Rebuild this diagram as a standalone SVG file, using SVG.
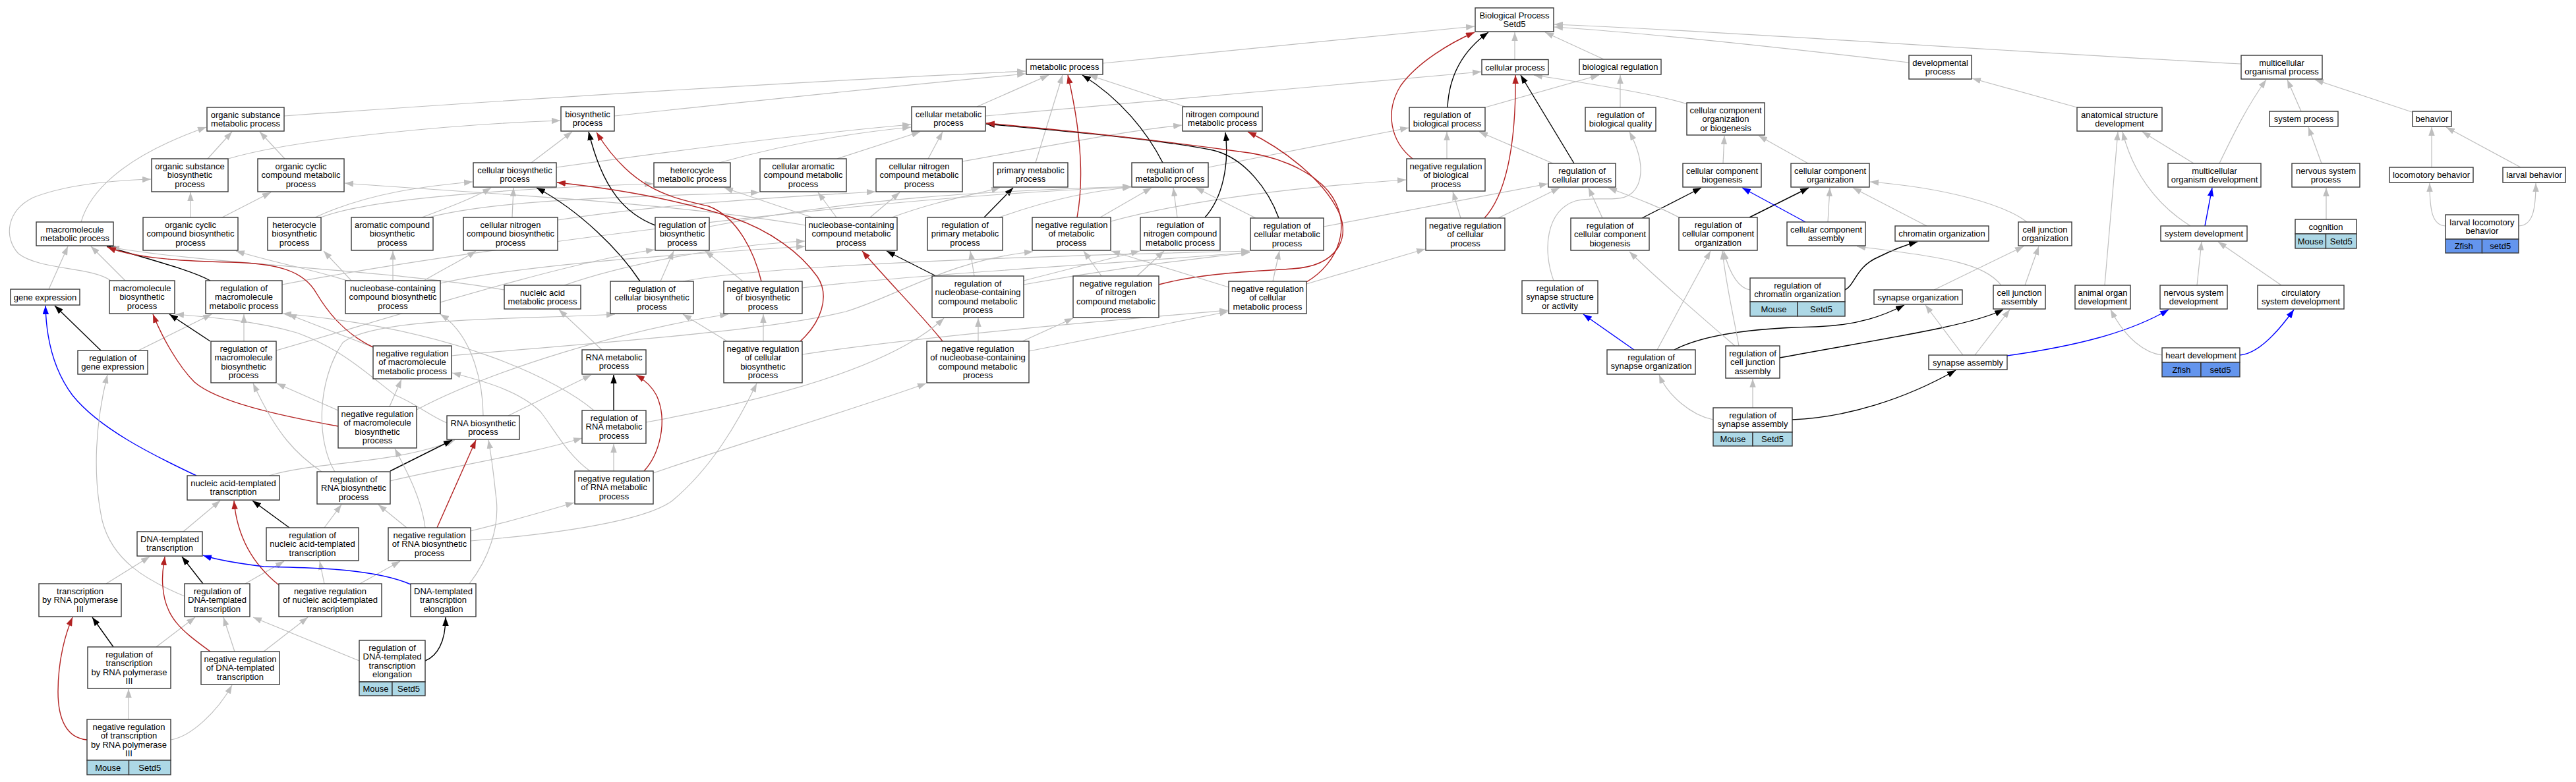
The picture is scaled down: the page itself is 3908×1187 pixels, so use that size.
<svg xmlns="http://www.w3.org/2000/svg" width="3908" height="1187" viewBox="0 0 3908 1187">
<defs>
<style>
.nd rect{fill:#fff;stroke:#383838;stroke-width:1.4}
.nd rect.m{fill:#add8e6}
.nd rect.z{fill:#6495ed}
text{font-family:'Liberation Sans',Arial,sans-serif;font-size:13px;text-anchor:middle;fill:#000}
#edges path{fill:none;stroke-width:1.2}
#edges .g{stroke:#bebebe;marker-end:url(#ag)}
#edges .k{stroke:#000;marker-end:url(#ak);stroke-width:1.4}
#edges .r{stroke:#b22222;marker-end:url(#ar);stroke-width:1.4}
#edges .b{stroke:#0000ff;marker-end:url(#ab);stroke-width:1.4}
</style>
<marker id="ag" viewBox="0 0 13 9.5" refX="13" refY="4.75" markerWidth="13" markerHeight="9.5" markerUnits="userSpaceOnUse" orient="auto"><path d="M0,0L13,4.75L0,9.5z" fill="#bebebe"/></marker>
<marker id="ak" viewBox="0 0 13 9.5" refX="13" refY="4.75" markerWidth="13" markerHeight="9.5" markerUnits="userSpaceOnUse" orient="auto"><path d="M0,0L13,4.75L0,9.5z" fill="#000"/></marker>
<marker id="ar" viewBox="0 0 13 9.5" refX="13" refY="4.75" markerWidth="13" markerHeight="9.5" markerUnits="userSpaceOnUse" orient="auto"><path d="M0,0L13,4.75L0,9.5z" fill="#b22222"/></marker>
<marker id="ab" viewBox="0 0 13 9.5" refX="13" refY="4.75" markerWidth="13" markerHeight="9.5" markerUnits="userSpaceOnUse" orient="auto"><path d="M0,0L13,4.75L0,9.5z" fill="#0000ff"/></marker>
</defs>
<rect x="0" y="0" width="3908" height="1187" fill="#fff"/>
<g id="edges">
<path class="g" d="M1673,96 L2237,40"/>
<path class="g" d="M2298,91 L2298,49"/>
<path class="g" d="M2433,90 L2344,49"/>
<path class="g" d="M2896,95 C2700,72 2500,50 2358,41"/>
<path class="g" d="M3400,97 C3000,76 2600,46 2358,37"/>
<path class="g" d="M431,176 C800,150 1200,124 1556,108"/>
<path class="g" d="M932,176 C1100,158 1300,136 1556,112"/>
<path class="g" d="M1482,162 L1591,114"/>
<path class="g" d="M1495,176 L2247,109"/>
<path class="g" d="M1798,162 L1652,114"/>
<path class="g" d="M2253,163 L2426,114"/>
<path class="k" d="M2196,163 C2198,120 2215,80 2258,49"/>
<path class="g" d="M2458,163 L2458,114"/>
<path class="g" d="M2560,158 C2520,145 2420,128 2327,114"/>
<path class="g" d="M3151,163 L2992,119"/>
<path class="g" d="M3491,169 L3470,121"/>
<path class="g" d="M3659,170 L3512,121"/>
<path class="g" d="M315,241 L352,200"/>
<path class="g" d="M346,241 C450,210 700,188 850,183"/>
<path class="g" d="M432,241 L394,200"/>
<path class="g" d="M806,247 L868,200"/>
<path class="g" d="M844,254 C1000,232 1200,205 1382,189"/>
<path class="g" d="M1091,247 C1180,222 1280,203 1382,193"/>
<path class="g" d="M1270,241 L1396,200"/>
<path class="g" d="M1408,241 L1430,200"/>
<path class="g" d="M1460,245 C1600,220 1700,200 1793,190"/>
<path class="g" d="M1571,247 L1612,114"/>
<path class="k" d="M1764,247 C1740,200 1700,150 1642,114"/>
<path class="g" d="M1833,254 L2137,194"/>
<path class="g" d="M2195,241 L2195,200"/>
<path class="r" d="M2143,241 C2110,215 2100,170 2125,130 C2150,95 2200,65 2237,49"/>
<path class="g" d="M2356,248 L2244,200"/>
<path class="k" d="M2388,248 L2307,114"/>
<path class="g" d="M2614,248 L2616,206"/>
<path class="g" d="M2743,248 L2668,206"/>
<path class="g" d="M3328,248 L3250,200"/>
<path class="g" d="M3367,248 C3390,200 3410,160 3438,121"/>
<path class="g" d="M3522,248 L3502,193"/>
<path class="g" d="M3689,254 L3689,193"/>
<path class="g" d="M3824,254 L3711,193"/>
<path class="g" d="M123,337 C135,295 180,240 313,193"/>
<path class="g" d="M289,330 L289,292"/>
<path class="g" d="M337,330 L411,292"/>
<path class="g" d="M484,331 C560,300 800,285 991,279"/>
<path class="g" d="M478,330 C560,292 650,282 717,276"/>
<path class="g" d="M647,331 C760,300 1000,298 1152,292"/>
<path class="g" d="M640,330 C680,315 720,300 745,285"/>
<path class="g" d="M777,330 L779,285"/>
<path class="g" d="M846,334 C1000,310 1200,298 1328,291"/>
<path class="g" d="M1222,342 C1000,305 700,292 523,278"/>
<path class="g" d="M1232,330 L1099,285"/>
<path class="g" d="M1269,330 L1241,292"/>
<path class="g" d="M1320,330 L1365,292"/>
<path class="g" d="M1353,330 C1420,305 1480,295 1517,285"/>
<path class="k" d="M994,342 C950,325 915,290 893,200"/>
<path class="g" d="M1076,344 C1300,300 1500,290 1716,283"/>
<path class="k" d="M1493,330 L1537,285"/>
<path class="g" d="M1516,330 C1600,300 1660,290 1716,284"/>
<path class="r" d="M1634,330 C1645,270 1640,200 1620,114"/>
<path class="g" d="M1669,330 L1747,285"/>
<path class="g" d="M1685,336 C1800,305 1950,285 2133,273"/>
<path class="g" d="M1786,330 L1780,285"/>
<path class="k" d="M1828,330 C1855,300 1865,250 1859,201"/>
<path class="g" d="M1905,331 L1814,285"/>
<path class="k" d="M1940,331 C1925,290 1890,240 1840,228 C1750,210 1600,198 1496,188"/>
<path class="g" d="M2008,344 L2348,279"/>
<path class="g" d="M2216,331 L2204,291"/>
<path class="g" d="M2273,331 L2366,285"/>
<path class="r" d="M2252,331 C2290,290 2300,200 2299,114"/>
<path class="k" d="M2491,331 L2581,285"/>
<path class="g" d="M2431,331 L2410,285"/>
<path class="k" d="M2654,330 L2744,285"/>
<path class="g" d="M2549,331 C2520,315 2480,300 2440,285"/>
<path class="b" d="M2739,337 L2643,285"/>
<path class="g" d="M2773,337 L2776,285"/>
<path class="g" d="M2923,343 L2811,285"/>
<path class="g" d="M3075,337 C3040,310 2950,285 2837,276"/>
<path class="g" d="M3323,343 C3270,310 3235,260 3220,200"/>
<path class="b" d="M3345,343 L3356,285"/>
<path class="g" d="M3529,333 L3529,285"/>
<path class="g" d="M3710,343 C3690,342 3686,320 3686,278"/>
<path class="g" d="M3821,343 C3842,342 3847,320 3847,278"/>
<path class="g" d="M74,439 L103,374"/>
<path class="g" d="M190,426 L138,374"/>
<path class="g" d="M168,426 C140,405 60,410 28,385 C5,360 10,320 50,300 C100,280 170,274 229,272"/>
<path class="k" d="M319,426 C290,410 230,395 162,374"/>
<path class="g" d="M428,432 C700,380 1300,300 1716,284"/>
<path class="g" d="M533,426 L491,381"/>
<path class="g" d="M596,426 L596,381"/>
<path class="g" d="M533,428 C480,410 420,400 358,381"/>
<path class="g" d="M643,426 C670,410 700,395 722,381"/>
<path class="g" d="M668,430 C800,400 1050,385 1221,374"/>
<path class="g" d="M856,433 C950,400 1100,372 1221,366"/>
<path class="g" d="M765,440 C600,410 300,400 168,375"/>
<path class="g" d="M1002,427 L1022,381"/>
<path class="k" d="M971,427 C940,380 880,320 814,285"/>
<path class="g" d="M1036,427 C1150,405 1500,390 1896,381"/>
<path class="g" d="M1127,427 L1070,381"/>
<path class="r" d="M1155,427 C1145,385 1120,330 1075,313 C1020,300 960,290 905,201"/>
<path class="g" d="M1217,437 C1400,415 1700,400 1896,383"/>
<path class="k" d="M1420,419 L1345,381"/>
<path class="g" d="M1478,419 L1472,381"/>
<path class="g" d="M1553,426 L1729,381"/>
<path class="g" d="M1553,432 C1700,405 1800,395 1896,383"/>
<path class="g" d="M1671,419 L1644,381"/>
<path class="g" d="M1725,419 L1766,381"/>
<path class="r" d="M1758,432 C1820,415 1900,412 1960,408 C2030,404 2050,360 2030,320 C2005,270 1945,225 1893,200"/>
<path class="r" d="M1982,428 C2030,400 2055,340 2015,290 C1985,255 1930,235 1880,230 C1750,212 1600,196 1496,187"/>
<path class="g" d="M1931,427 L1941,381"/>
<path class="g" d="M1864,436 L1686,381"/>
<path class="g" d="M1982,431 L2162,378"/>
<path class="g" d="M2357,426 C2340,380 2345,320 2390,305 C2430,295 2470,315 2485,280 C2495,255 2485,225 2472,200"/>
<path class="k" d="M2799,440 C2815,432 2815,405 2850,390 C2870,380 2890,372 2909,367"/>
<path class="g" d="M2655,440 C2640,438 2625,420 2615,381"/>
<path class="g" d="M2934,440 L3070,374"/>
<path class="g" d="M3072,433 L3093,374"/>
<path class="g" d="M3036,433 C3010,400 2950,390 2817,374"/>
<path class="g" d="M3193,433 L3213,200"/>
<path class="g" d="M3333,433 L3340,367"/>
<path class="g" d="M3461,433 L3365,367"/>
<path class="k" d="M153,532 L83,464"/>
<path class="g" d="M210,532 L321,477"/>
<path class="k" d="M319,518 L257,477"/>
<path class="g" d="M370,518 L370,477"/>
<path class="g" d="M419,532 C600,480 850,400 993,379"/>
<path class="g" d="M566,527 L437,477"/>
<path class="r" d="M566,527 C520,505 495,470 480,445 C460,410 420,400 350,398 C260,396 200,390 163,375"/>
<path class="g" d="M685,540 C900,520 1150,505 1283,473 C1360,450 1440,395 1567,382"/>
<path class="g" d="M913,531 L848,470"/>
<path class="g" d="M1158,518 L1158,477"/>
<path class="g" d="M1103,518 L1036,477"/>
<path class="r" d="M1214,518 C1245,490 1260,450 1240,420 C1215,385 1170,350 1110,330 C1020,300 920,285 845,277"/>
<path class="g" d="M1217,538 C1400,510 1700,485 1863,471"/>
<path class="g" d="M1484,518 L1484,483"/>
<path class="r" d="M1430,518 C1400,480 1350,430 1308,381"/>
<path class="g" d="M1551,518 L1628,483"/>
<path class="g" d="M1561,533 L1863,473"/>
<path class="k" d="M2540,531 C2580,510 2650,498 2755,496 C2820,494 2860,478 2889,463"/>
<path class="b" d="M2479,531 L2402,477"/>
<path class="g" d="M2514,531 L2595,381"/>
<path class="k" d="M2700,543 C2850,515 2990,495 3039,470"/>
<path class="g" d="M2632,525 C2580,480 2510,420 2472,382"/>
<path class="g" d="M2638,525 C2630,480 2618,430 2613,381"/>
<path class="g" d="M2978,539 L2921,463"/>
<path class="g" d="M2996,539 L3049,470"/>
<path class="b" d="M3045,540 C3150,525 3230,505 3290,470"/>
<path class="g" d="M3280,539 C3255,536 3225,515 3202,470"/>
<path class="b" d="M3398,539 C3425,537 3455,505 3480,470"/>
<path class="r" d="M513,647 C420,630 330,610 295,580 C270,555 245,510 232,477"/>
<path class="g" d="M513,623 L420,582"/>
<path class="g" d="M591,617 L609,576"/>
<path class="g" d="M632,622 C750,560 950,500 1105,477"/>
<path class="g" d="M771,631 L897,569"/>
<path class="g" d="M678,642 C650,630 630,612 600,600 C560,570 520,530 450,505 C380,485 300,480 266,477"/>
<path class="g" d="M733,631 C733,590 720,510 668,477"/>
<path class="k" d="M931,623 L931,569"/>
<path class="g" d="M980,641 C1150,610 1350,560 1432,483"/>
<path class="g" d="M901,623 C850,580 700,500 429,476"/>
<path class="k" d="M2719,637 C2800,634 2890,606 2967,562"/>
<path class="g" d="M2599,637 C2565,630 2530,600 2517,569"/>
<path class="g" d="M2659,619 L2659,575"/>
<path class="b" d="M298,722 C230,690 150,650 110,600 C80,560 70,510 69,464"/>
<path class="g" d="M408,722 C480,700 600,705 690,668"/>
<path class="k" d="M592,715 L686,668"/>
<path class="g" d="M592,730 C700,705 800,690 883,665"/>
<path class="g" d="M488,716 C450,690 420,660 384,582"/>
<path class="g" d="M508,716 C480,670 480,580 520,520 C570,480 800,485 933,477"/>
<path class="g" d="M931,715 L931,674"/>
<path class="r" d="M977,715 C1000,690 1014,640 996,600 C988,585 975,575 965,569"/>
<path class="g" d="M991,718 C1100,680 1300,620 1405,582"/>
<path class="g" d="M895,715 C860,690 840,650 820,625 C790,595 740,580 686,566"/>
<path class="g" d="M278,807 L334,760"/>
<path class="k" d="M439,801 L383,760"/>
<path class="g" d="M492,801 L518,766"/>
<path class="r" d="M663,801 L722,668"/>
<path class="g" d="M617,801 L574,766"/>
<path class="g" d="M645,801 C640,760 620,720 599,681"/>
<path class="g" d="M714,806 C780,790 830,775 871,763"/>
<path class="g" d="M714,821 C850,810 980,790 1020,760 C1080,710 1120,640 1148,582"/>
<path class="g" d="M161,886 L227,845"/>
<path class="k" d="M308,886 L276,845"/>
<path class="g" d="M372,886 L431,852"/>
<path class="g" d="M280,905 C220,880 170,850 155,790 C140,720 145,640 163,569"/>
<path class="r" d="M423,888 C388,860 360,820 355,760"/>
<path class="g" d="M492,886 L485,852"/>
<path class="g" d="M546,886 L607,852"/>
<path class="b" d="M623,887 C560,860 450,862 400,860 C360,855 330,850 308,843"/>
<path class="g" d="M712,886 C740,850 760,800 752,750 C748,710 745,690 741,668"/>
<path class="k" d="M172,982 L140,937"/>
<path class="g" d="M237,982 L296,937"/>
<path class="r" d="M319,989 C280,960 250,940 247,890 C245,870 248,860 250,845"/>
<path class="g" d="M356,989 L339,937"/>
<path class="g" d="M400,989 L467,937"/>
<path class="k" d="M645,1003 C663,996 676,975 676,937"/>
<path class="g" d="M545,1003 L384,937"/>
<path class="r" d="M132,1123 C100,1120 88,1090 88,1050 C88,1000 100,960 110,937"/>
<path class="g" d="M195,1092 L195,1046"/>
<path class="g" d="M259,1123 C290,1118 330,1080 352,1040"/>
</g>
<g id="nodes">
<g id="biological-process" class="nd"><rect x="2238" y="12" width="119" height="36"/><text x="2297.5" y="28">Biological Process</text><text x="2297.5" y="41.3">Setd5</text></g>
<g id="metabolic-process" class="nd"><rect x="1557" y="90" width="116" height="23"/><text x="1615" y="106">metabolic process</text></g>
<g id="cellular-process" class="nd"><rect x="2248" y="90.5" width="101" height="23"/><text x="2298.5" y="106.5">cellular process</text></g>
<g id="biological-regulation" class="nd"><rect x="2396" y="90" width="124" height="23"/><text x="2458" y="106">biological regulation</text></g>
<g id="developmental-process" class="nd"><rect x="2896" y="84" width="95" height="36"/><text x="2943.5" y="100">developmental</text><text x="2943.5" y="113.3">process</text></g>
<g id="multicellular-organismal-process" class="nd"><rect x="3400" y="84" width="123" height="36"/><text x="3461.5" y="100">multicellular</text><text x="3461.5" y="113.3">organismal process</text></g>
<g id="organic-substance-metabolic-process" class="nd"><rect x="314" y="163" width="117" height="36"/><text x="372.5" y="179">organic substance</text><text x="372.5" y="192.3">metabolic process</text></g>
<g id="biosynthetic-process" class="nd"><rect x="851" y="162" width="81" height="37"/><text x="891.5" y="178">biosynthetic</text><text x="891.5" y="191.3">process</text></g>
<g id="cellular-metabolic-process" class="nd"><rect x="1383" y="162" width="112" height="37"/><text x="1439" y="178">cellular metabolic</text><text x="1439" y="191.3">process</text></g>
<g id="nitrogen-compound-metabolic-process" class="nd"><rect x="1794" y="162" width="121" height="37"/><text x="1854.5" y="178">nitrogen compound</text><text x="1854.5" y="191.3">metabolic process</text></g>
<g id="regulation-of-biological-process" class="nd"><rect x="2138" y="163" width="115" height="36"/><text x="2195.5" y="179">regulation of</text><text x="2195.5" y="192.3">biological process</text></g>
<g id="regulation-of-biological-quality" class="nd"><rect x="2405" y="163" width="107" height="36"/><text x="2458.5" y="179">regulation of</text><text x="2458.5" y="192.3">biological quality</text></g>
<g id="cellular-component-organization-or-biogenesis" class="nd"><rect x="2559" y="156" width="118" height="49"/><text x="2618" y="172">cellular component</text><text x="2618" y="185.3">organization</text><text x="2618" y="198.6">or biogenesis</text></g>
<g id="anatomical-structure-development" class="nd"><rect x="3151" y="163" width="129" height="36"/><text x="3215.5" y="179">anatomical structure</text><text x="3215.5" y="192.3">development</text></g>
<g id="system-process" class="nd"><rect x="3443" y="169" width="104" height="23"/><text x="3495" y="185">system process</text></g>
<g id="behavior" class="nd"><rect x="3660" y="169" width="59" height="23"/><text x="3689.5" y="185">behavior</text></g>
<g id="organic-substance-biosynthetic-process" class="nd"><rect x="230" y="241" width="116" height="50"/><text x="288" y="257">organic substance</text><text x="288" y="270.3">biosynthetic</text><text x="288" y="283.6">process</text></g>
<g id="organic-cyclic-compound-metabolic-process" class="nd"><rect x="391" y="241" width="131" height="50"/><text x="456.5" y="257">organic cyclic</text><text x="456.5" y="270.3">compound metabolic</text><text x="456.5" y="283.6">process</text></g>
<g id="cellular-biosynthetic-process" class="nd"><rect x="718" y="247" width="126" height="37"/><text x="781" y="263">cellular biosynthetic</text><text x="781" y="276.3">process</text></g>
<g id="heterocycle-metabolic-process" class="nd"><rect x="992" y="247" width="116" height="37"/><text x="1050" y="263">heterocycle</text><text x="1050" y="276.3">metabolic process</text></g>
<g id="cellular-aromatic-compound-metabolic-process" class="nd"><rect x="1153" y="241" width="131" height="50"/><text x="1218.5" y="257">cellular aromatic</text><text x="1218.5" y="270.3">compound metabolic</text><text x="1218.5" y="283.6">process</text></g>
<g id="cellular-nitrogen-compound-metabolic-process" class="nd"><rect x="1329" y="241" width="131" height="50"/><text x="1394.5" y="257">cellular nitrogen</text><text x="1394.5" y="270.3">compound metabolic</text><text x="1394.5" y="283.6">process</text></g>
<g id="primary-metabolic-process" class="nd"><rect x="1507" y="247" width="113" height="37"/><text x="1563.5" y="263">primary metabolic</text><text x="1563.5" y="276.3">process</text></g>
<g id="regulation-of-metabolic-process" class="nd"><rect x="1717" y="247" width="116" height="37"/><text x="1775" y="263">regulation of</text><text x="1775" y="276.3">metabolic process</text></g>
<g id="negative-regulation-of-biological-process" class="nd"><rect x="2134" y="241" width="119" height="49"/><text x="2193.5" y="257">negative regulation</text><text x="2193.5" y="270.3">of biological</text><text x="2193.5" y="283.6">process</text></g>
<g id="regulation-of-cellular-process" class="nd"><rect x="2349" y="248" width="102" height="36"/><text x="2400" y="264">regulation of</text><text x="2400" y="277.3">cellular process</text></g>
<g id="cellular-component-biogenesis" class="nd"><rect x="2553" y="248" width="119" height="36"/><text x="2612.5" y="264">cellular component</text><text x="2612.5" y="277.3">biogenesis</text></g>
<g id="cellular-component-organization" class="nd"><rect x="2717" y="248" width="119" height="36"/><text x="2776.5" y="264">cellular component</text><text x="2776.5" y="277.3">organization</text></g>
<g id="multicellular-organism-development" class="nd"><rect x="3289" y="248" width="141" height="36"/><text x="3359.5" y="264">multicellular</text><text x="3359.5" y="277.3">organism development</text></g>
<g id="nervous-system-process" class="nd"><rect x="3477" y="248" width="103" height="36"/><text x="3528.5" y="264">nervous system</text><text x="3528.5" y="277.3">process</text></g>
<g id="locomotory-behavior" class="nd"><rect x="3625" y="254" width="127" height="23"/><text x="3688.5" y="270">locomotory behavior</text></g>
<g id="larval-behavior" class="nd"><rect x="3797" y="254" width="95" height="23"/><text x="3844.5" y="270">larval behavior</text></g>
<g id="macromolecule-metabolic-process" class="nd"><rect x="55" y="337" width="117" height="36"/><text x="113.5" y="353">macromolecule</text><text x="113.5" y="366.3">metabolic process</text></g>
<g id="organic-cyclic-compound-biosynthetic-process" class="nd"><rect x="217" y="330" width="144" height="50"/><text x="289" y="346">organic cyclic</text><text x="289" y="359.3">compound biosynthetic</text><text x="289" y="372.6">process</text></g>
<g id="heterocycle-biosynthetic-process" class="nd"><rect x="406" y="330" width="81" height="50"/><text x="446.5" y="346">heterocycle</text><text x="446.5" y="359.3">biosynthetic</text><text x="446.5" y="372.6">process</text></g>
<g id="aromatic-compound-biosynthetic-process" class="nd"><rect x="533" y="330" width="124" height="50"/><text x="595" y="346">aromatic compound</text><text x="595" y="359.3">biosynthetic</text><text x="595" y="372.6">process</text></g>
<g id="cellular-nitrogen-compound-biosynthetic-process" class="nd"><rect x="703" y="330" width="143" height="50"/><text x="774.5" y="346">cellular nitrogen</text><text x="774.5" y="359.3">compound biosynthetic</text><text x="774.5" y="372.6">process</text></g>
<g id="regulation-of-biosynthetic-process" class="nd"><rect x="994" y="330" width="82" height="50"/><text x="1035" y="346">regulation of</text><text x="1035" y="359.3">biosynthetic</text><text x="1035" y="372.6">process</text></g>
<g id="nucleobase-containing-compound-metabolic-process" class="nd"><rect x="1222" y="330" width="139" height="50"/><text x="1291.5" y="346">nucleobase-containing</text><text x="1291.5" y="359.3">compound metabolic</text><text x="1291.5" y="372.6">process</text></g>
<g id="regulation-of-primary-metabolic-process" class="nd"><rect x="1407" y="330" width="114" height="50"/><text x="1464" y="346">regulation of</text><text x="1464" y="359.3">primary metabolic</text><text x="1464" y="372.6">process</text></g>
<g id="negative-regulation-of-metabolic-process" class="nd"><rect x="1566" y="330" width="119" height="50"/><text x="1625.5" y="346">negative regulation</text><text x="1625.5" y="359.3">of metabolic</text><text x="1625.5" y="372.6">process</text></g>
<g id="regulation-of-nitrogen-compound-metabolic-process" class="nd"><rect x="1730" y="330" width="121" height="50"/><text x="1790.5" y="346">regulation of</text><text x="1790.5" y="359.3">nitrogen compound</text><text x="1790.5" y="372.6">metabolic process</text></g>
<g id="regulation-of-cellular-metabolic-process" class="nd"><rect x="1897" y="331" width="111" height="49"/><text x="1952.5" y="347">regulation of</text><text x="1952.5" y="360.3">cellular metabolic</text><text x="1952.5" y="373.6">process</text></g>
<g id="negative-regulation-of-cellular-process" class="nd"><rect x="2163" y="331" width="120" height="49"/><text x="2223" y="347">negative regulation</text><text x="2223" y="360.3">of cellular</text><text x="2223" y="373.6">process</text></g>
<g id="regulation-of-cellular-component-biogenesis" class="nd"><rect x="2383" y="331" width="119" height="49"/><text x="2442.5" y="347">regulation of</text><text x="2442.5" y="360.3">cellular component</text><text x="2442.5" y="373.6">biogenesis</text></g>
<g id="regulation-of-cellular-component-organization" class="nd"><rect x="2547" y="330" width="119" height="50"/><text x="2606.5" y="346">regulation of</text><text x="2606.5" y="359.3">cellular component</text><text x="2606.5" y="372.6">organization</text></g>
<g id="cellular-component-assembly" class="nd"><rect x="2711" y="337" width="119" height="36"/><text x="2770.5" y="353">cellular component</text><text x="2770.5" y="366.3">assembly</text></g>
<g id="chromatin-organization" class="nd"><rect x="2875" y="343" width="142" height="23"/><text x="2946" y="359">chromatin organization</text></g>
<g id="cell-junction-organization" class="nd"><rect x="3062" y="337" width="81" height="36"/><text x="3102.5" y="353">cell junction</text><text x="3102.5" y="366.3">organization</text></g>
<g id="system-development" class="nd"><rect x="3278" y="343" width="131" height="23"/><text x="3343.5" y="359">system development</text></g>
<g id="cognition" class="nd"><rect x="3482" y="333" width="93" height="22"/><text x="3528.5" y="348.6">cognition</text><rect class="m" x="3482" y="355" width="46.5" height="22"/><rect class="m" x="3528.5" y="355" width="46.5" height="22"/><text x="3505.25" y="370.6">Mouse</text><text x="3551.75" y="370.6">Setd5</text></g>
<g id="larval-locomotory-behavior" class="nd"><rect x="3710" y="326" width="111" height="37"/><text x="3765.5" y="342">larval locomotory</text><text x="3765.5" y="355.3">behavior</text><rect class="z" x="3710" y="363" width="55.5" height="21"/><rect class="z" x="3765.5" y="363" width="55.5" height="21"/><text x="3737.75" y="378">Zfish</text><text x="3793.25" y="378">setd5</text></g>
<g id="gene-expression" class="nd"><rect x="16" y="439" width="105" height="24"/><text x="68.5" y="455.5">gene expression</text></g>
<g id="macromolecule-biosynthetic-process" class="nd"><rect x="166" y="426" width="99" height="50"/><text x="215.5" y="442">macromolecule</text><text x="215.5" y="455.3">biosynthetic</text><text x="215.5" y="468.6">process</text></g>
<g id="regulation-of-macromolecule-metabolic-process" class="nd"><rect x="312" y="426" width="116" height="50"/><text x="370" y="442">regulation of</text><text x="370" y="455.3">macromolecule</text><text x="370" y="468.6">metabolic process</text></g>
<g id="nucleobase-containing-compound-biosynthetic-process" class="nd"><rect x="524" y="426" width="144" height="50"/><text x="596" y="442">nucleobase-containing</text><text x="596" y="455.3">compound biosynthetic</text><text x="596" y="468.6">process</text></g>
<g id="nucleic-acid-metabolic-process" class="nd"><rect x="765" y="433" width="116" height="36"/><text x="823" y="449">nucleic acid</text><text x="823" y="462.3">metabolic process</text></g>
<g id="regulation-of-cellular-biosynthetic-process" class="nd"><rect x="926" y="427" width="126" height="49"/><text x="989" y="443">regulation of</text><text x="989" y="456.3">cellular biosynthetic</text><text x="989" y="469.6">process</text></g>
<g id="negative-regulation-of-biosynthetic-process" class="nd"><rect x="1098" y="427" width="119" height="49"/><text x="1157.5" y="443">negative regulation</text><text x="1157.5" y="456.3">of biosynthetic</text><text x="1157.5" y="469.6">process</text></g>
<g id="regulation-of-nucleobase-containing-compound-metabolic-process" class="nd"><rect x="1414" y="419" width="139" height="63"/><text x="1483.5" y="435">regulation of</text><text x="1483.5" y="448.3">nucleobase-containing</text><text x="1483.5" y="461.6">compound metabolic</text><text x="1483.5" y="474.9">process</text></g>
<g id="negative-regulation-of-nitrogen-compound-metabolic-process" class="nd"><rect x="1628" y="419" width="130" height="63"/><text x="1693" y="435">negative regulation</text><text x="1693" y="448.3">of nitrogen</text><text x="1693" y="461.6">compound metabolic</text><text x="1693" y="474.9">process</text></g>
<g id="negative-regulation-of-cellular-metabolic-process" class="nd"><rect x="1864" y="427" width="118" height="49"/><text x="1923" y="443">negative regulation</text><text x="1923" y="456.3">of cellular</text><text x="1923" y="469.6">metabolic process</text></g>
<g id="regulation-of-synapse-structure-or-activity" class="nd"><rect x="2309" y="426" width="115" height="50"/><text x="2366.5" y="442">regulation of</text><text x="2366.5" y="455.3">synapse structure</text><text x="2366.5" y="468.6">or activity</text></g>
<g id="regulation-of-chromatin-organization" class="nd"><rect x="2655" y="422" width="144" height="36"/><text x="2727" y="438">regulation of</text><text x="2727" y="451.3">chromatin organization</text><rect class="m" x="2655" y="458" width="72" height="22"/><rect class="m" x="2727" y="458" width="72" height="22"/><text x="2691" y="473.6">Mouse</text><text x="2763" y="473.6">Setd5</text></g>
<g id="synapse-organization" class="nd"><rect x="2843" y="440" width="134" height="22"/><text x="2910" y="455.6">synapse organization</text></g>
<g id="cell-junction-assembly" class="nd"><rect x="3024" y="433" width="79" height="36"/><text x="3063.5" y="449">cell junction</text><text x="3063.5" y="462.3">assembly</text></g>
<g id="animal-organ-development" class="nd"><rect x="3148" y="433" width="84" height="36"/><text x="3190" y="449">animal organ</text><text x="3190" y="462.3">development</text></g>
<g id="nervous-system-development" class="nd"><rect x="3277" y="433" width="102" height="36"/><text x="3328" y="449">nervous system</text><text x="3328" y="462.3">development</text></g>
<g id="circulatory-system-development" class="nd"><rect x="3425" y="433" width="131" height="36"/><text x="3490.5" y="449">circulatory</text><text x="3490.5" y="462.3">system development</text></g>
<g id="regulation-of-gene-expression" class="nd"><rect x="118" y="532" width="106" height="36"/><text x="171" y="548">regulation of</text><text x="171" y="561.3">gene expression</text></g>
<g id="regulation-of-macromolecule-biosynthetic-process" class="nd"><rect x="320" y="518" width="99" height="63"/><text x="369.5" y="534">regulation of</text><text x="369.5" y="547.3">macromolecule</text><text x="369.5" y="560.6">biosynthetic</text><text x="369.5" y="573.9">process</text></g>
<g id="negative-regulation-of-macromolecule-metabolic-process" class="nd"><rect x="566" y="525" width="119" height="50"/><text x="625.5" y="541">negative regulation</text><text x="625.5" y="554.3">of macromolecule</text><text x="625.5" y="567.6">metabolic process</text></g>
<g id="rna-metabolic-process" class="nd"><rect x="883" y="531" width="97" height="37"/><text x="931.5" y="547">RNA metabolic</text><text x="931.5" y="560.3">process</text></g>
<g id="negative-regulation-of-cellular-biosynthetic-process" class="nd"><rect x="1098" y="518" width="119" height="63"/><text x="1157.5" y="534">negative regulation</text><text x="1157.5" y="547.3">of cellular</text><text x="1157.5" y="560.6">biosynthetic</text><text x="1157.5" y="573.9">process</text></g>
<g id="negative-regulation-of-nucleobase-containing-compound-metabolic-process" class="nd"><rect x="1406" y="518" width="155" height="63"/><text x="1483.5" y="534">negative regulation</text><text x="1483.5" y="547.3">of nucleobase-containing</text><text x="1483.5" y="560.6">compound metabolic</text><text x="1483.5" y="573.9">process</text></g>
<g id="regulation-of-synapse-organization" class="nd"><rect x="2438" y="531" width="134" height="37"/><text x="2505" y="547">regulation of</text><text x="2505" y="560.3">synapse organization</text></g>
<g id="regulation-of-cell-junction-assembly" class="nd"><rect x="2618" y="525" width="82" height="49"/><text x="2659" y="541">regulation of</text><text x="2659" y="554.3">cell junction</text><text x="2659" y="567.6">assembly</text></g>
<g id="synapse-assembly" class="nd"><rect x="2926" y="539" width="119" height="22"/><text x="2985.5" y="554.6">synapse assembly</text></g>
<g id="heart-development" class="nd"><rect x="3280" y="528" width="118" height="22"/><text x="3339" y="543.6">heart development</text><rect class="z" x="3280" y="550" width="59" height="22"/><rect class="z" x="3339" y="550" width="59" height="22"/><text x="3309.5" y="565.6">Zfish</text><text x="3368.5" y="565.6">setd5</text></g>
<g id="negative-regulation-of-macromolecule-biosynthetic-process" class="nd"><rect x="513" y="617" width="119" height="63"/><text x="572.5" y="633">negative regulation</text><text x="572.5" y="646.3">of macromolecule</text><text x="572.5" y="659.6">biosynthetic</text><text x="572.5" y="672.9">process</text></g>
<g id="rna-biosynthetic-process" class="nd"><rect x="678" y="631" width="110" height="36"/><text x="733" y="647">RNA biosynthetic</text><text x="733" y="660.3">process</text></g>
<g id="regulation-of-rna-metabolic-process" class="nd"><rect x="883" y="623" width="97" height="50"/><text x="931.5" y="639">regulation of</text><text x="931.5" y="652.3">RNA metabolic</text><text x="931.5" y="665.6">process</text></g>
<g id="regulation-of-synapse-assembly" class="nd"><rect x="2599" y="619" width="120" height="37"/><text x="2659" y="635">regulation of</text><text x="2659" y="648.3">synapse assembly</text><rect class="m" x="2599" y="656" width="60" height="21"/><rect class="m" x="2659" y="656" width="60" height="21"/><text x="2629" y="671">Mouse</text><text x="2689" y="671">Setd5</text></g>
<g id="nucleic-acid-templated-transcription" class="nd"><rect x="284" y="722" width="140" height="37"/><text x="354" y="738">nucleic acid-templated</text><text x="354" y="751.3">transcription</text></g>
<g id="regulation-of-rna-biosynthetic-process" class="nd"><rect x="481" y="716" width="111" height="49"/><text x="536.5" y="732">regulation of</text><text x="536.5" y="745.3">RNA biosynthetic</text><text x="536.5" y="758.6">process</text></g>
<g id="negative-regulation-of-rna-metabolic-process" class="nd"><rect x="872" y="715" width="119" height="50"/><text x="931.5" y="731">negative regulation</text><text x="931.5" y="744.3">of RNA metabolic</text><text x="931.5" y="757.6">process</text></g>
<g id="dna-templated-transcription" class="nd"><rect x="208" y="807" width="99" height="37"/><text x="257.5" y="823">DNA-templated</text><text x="257.5" y="836.3">transcription</text></g>
<g id="regulation-of-nucleic-acid-templated-transcription" class="nd"><rect x="404" y="801" width="140" height="50"/><text x="474" y="817">regulation of</text><text x="474" y="830.3">nucleic acid-templated</text><text x="474" y="843.6">transcription</text></g>
<g id="negative-regulation-of-rna-biosynthetic-process" class="nd"><rect x="589" y="801" width="125" height="50"/><text x="651.5" y="817">negative regulation</text><text x="651.5" y="830.3">of RNA biosynthetic</text><text x="651.5" y="843.6">process</text></g>
<g id="transcription-by-rna-polymerase-iii" class="nd"><rect x="59" y="886" width="125" height="50"/><text x="121.5" y="902">transcription</text><text x="121.5" y="915.3">by RNA polymerase</text><text x="121.5" y="928.6">III</text></g>
<g id="regulation-of-dna-templated-transcription" class="nd"><rect x="280" y="886" width="99" height="50"/><text x="329.5" y="902">regulation of</text><text x="329.5" y="915.3">DNA-templated</text><text x="329.5" y="928.6">transcription</text></g>
<g id="negative-regulation-of-nucleic-acid-templated-transcription" class="nd"><rect x="423" y="886" width="156" height="50"/><text x="501" y="902">negative regulation</text><text x="501" y="915.3">of nucleic acid-templated</text><text x="501" y="928.6">transcription</text></g>
<g id="dna-templated-transcription-elongation" class="nd"><rect x="623" y="886" width="99" height="50"/><text x="672.5" y="902">DNA-templated</text><text x="672.5" y="915.3">transcription</text><text x="672.5" y="928.6">elongation</text></g>
<g id="regulation-of-transcription-by-rna-polymerase-iii" class="nd"><rect x="133" y="982" width="126" height="63"/><text x="196" y="998">regulation of</text><text x="196" y="1011.3">transcription</text><text x="196" y="1024.6">by RNA polymerase</text><text x="196" y="1037.9">III</text></g>
<g id="negative-regulation-of-dna-templated-transcription" class="nd"><rect x="305" y="989" width="119" height="50"/><text x="364.5" y="1005">negative regulation</text><text x="364.5" y="1018.3">of DNA-templated</text><text x="364.5" y="1031.6">transcription</text></g>
<g id="regulation-of-dna-templated-transcription-elongation" class="nd"><rect x="545" y="972" width="100" height="63"/><text x="595" y="988">regulation of</text><text x="595" y="1001.3">DNA-templated</text><text x="595" y="1014.6">transcription</text><text x="595" y="1027.9">elongation</text><rect class="m" x="545" y="1035" width="50" height="21"/><rect class="m" x="595" y="1035" width="50" height="21"/><text x="570" y="1050">Mouse</text><text x="620" y="1050">Setd5</text></g>
<g id="negative-regulation-of-transcription-by-rna-polymerase-iii" class="nd"><rect x="132" y="1092" width="127" height="62"/><text x="195.5" y="1108">negative regulation</text><text x="195.5" y="1121.3">of transcription</text><text x="195.5" y="1134.6">by RNA polymerase</text><text x="195.5" y="1147.9">III</text><rect class="m" x="132" y="1154" width="63.5" height="22"/><rect class="m" x="195.5" y="1154" width="63.5" height="22"/><text x="163.75" y="1169.6">Mouse</text><text x="227.25" y="1169.6">Setd5</text></g>
</g>
</svg>
